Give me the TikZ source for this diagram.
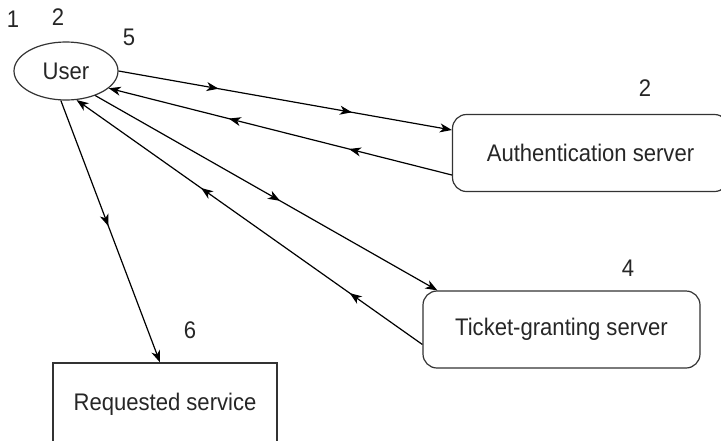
\documentclass[tikz,border=0pt]{standalone}
\usepackage{fontspec}
\setmainfont{Liberation Sans}[FakeStretch=0.92]
\usetikzlibrary{shapes.geometric,arrows.meta,decorations.markings,calc}

\begin{document}
\begin{tikzpicture}[x=1pt,y=-1pt,
  every node/.style={font=\fontsize{24}{28}\selectfont, inner sep=0pt, text=black!85},
  msgtip/.tip={Stealth[length=12pt,width=9pt,inset=3.5pt]},
  flow/.style={line width=1.2pt, draw=black, -{msgtip}},
  midtip/.style={postaction={decorate, decoration={markings,
      mark=at position #1 with {\arrow{msgtip}}}}},
  party/.style={draw=black!80, line width=1.2pt},
  server/.style={party, rectangle, rounded corners=14pt, minimum height=77pt},
  step label/.style={anchor=center}
]
\useasboundingbox (0,0) rectangle (721,440);

% parties
\node[party, ellipse, minimum width=104pt, minimum height=58pt] (user) at (66,71) {User};
\node[server, minimum width=276pt] (auth) at (590.5,153) {Authentication server};
\node[server, minimum width=277pt] (tgs) at (561.5,329.5) {Ticket-granting server};
\node[party, rectangle, minimum width=224pt, minimum height=83pt] (req) at (165,404.5) {Requested service};

% step numbers
\node[step label] (n1) at (13,19) {1};
\node[step label] (n2) at (58,17) {2};
\node[step label] (n5) at (129,37) {5};
\node[step label] (n2b) at (645,88) {2};
\node[step label] (n4) at (628,268) {4};
\node[step label] (n6) at (190,330) {6};

% messages
\draw[flow, midtip=0.3, midtip=0.7] (user.east) -- ($(auth.west)+(0,-23)$);
\draw[flow, midtip=0.3, midtip=0.65] ($(auth.west)+(0,22)$) -- (user.-22);
\draw[flow, midtip=0.54] (user.-40) -- ($(tgs.north west)+(15,0)$);
\draw[flow, midtip=0.21, midtip=0.64] ($(tgs.west)+(0,15)$) -- (user.-70);
\draw[flow, midtip=0.48] (user.-100) -- ($(req.north)+(-5,0)$);
\end{tikzpicture}
\end{document}
